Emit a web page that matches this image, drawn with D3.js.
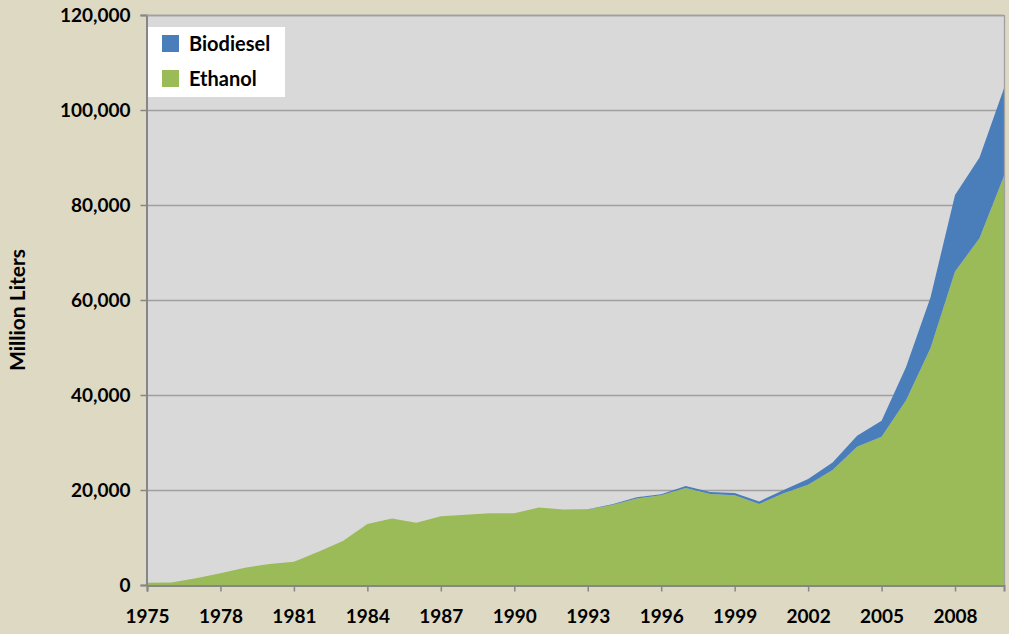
<!DOCTYPE html>
<html>
<head>
<meta charset="utf-8">
<script src="https://cdn.jsdelivr.net/npm/d3@7"></script>
<style>
  body { margin: 0; background: #DDD9C3; }
  svg { display: block; font-family: Lato, "Open Sans", sans-serif; font-weight: bold; }
</style>
</head>
<body>
<div id="chart"></div>
<script>
var years = d3.range(1975, 2011);
var ethanol = [500, 550, 1400, 2450, 3650, 4400, 4900, 7000, 9250, 12850,
               14000, 13100, 14500, 14800, 15100, 15100, 16300, 15900, 15900, 16850,
               18200, 18900, 20400, 19150, 18900, 17050, 19300, 21100, 24200, 29100,
               31200, 38900, 49900, 66000, 73000, 86100];
var biodiesel = [0, 0, 0, 0, 0, 0, 0, 0, 0, 0,
                 0, 0, 0, 0, 0, 0, 0, 0, 50, 150,
                 250, 200, 450, 450, 450, 550, 700, 1200, 1600, 2300,
                 3400, 7000, 10700, 16100, 17000, 18500];
var yTicks = [0, 20000, 40000, 60000, 80000, 100000, 120000];
var xTicks = d3.range(1975, 2011, 3);

var width = 1009, height = 634;
var margin = {top: 15, right: 5, bottom: 49, left: 147};

var svg = d3.select("#chart").append("svg")
    .attr("width", width)
    .attr("height", height);

var x = d3.scaleLinear().domain([1975, 2010]).range([margin.left, width - margin.right]);
var y = d3.scaleLinear().domain([0, 120000]).range([height - margin.bottom, margin.top]);

// plot background
svg.append("rect")
    .attr("x", x(1975)).attr("y", y(120000))
    .attr("width", x(2010) - x(1975)).attr("height", y(0) - y(120000))
    .attr("fill", "#D9D9D9");

// gridlines
svg.append("g").selectAll("line")
    .data(yTicks.filter(function(d){ return d > 0; }))
    .enter().append("line")
    .attr("x1", x(1975)).attr("x2", x(2010))
    .attr("y1", function(d){ return y(d) + 0.5; })
    .attr("y2", function(d){ return y(d) + 0.5; })
    .attr("stroke", "#A0A0A0").attr("stroke-width", 1.3);

var rows = years.map(function(yr, i){
    return {year: yr, ethanol: ethanol[i], biodiesel: biodiesel[i]};
});
var stack = d3.stack().keys(["ethanol", "biodiesel"]);
var series = stack(rows);
var colors = {ethanol: "#9BBB59", biodiesel: "#4A7EBB"};

var area = d3.area()
    .x(function(d){ return x(d.data.year); })
    .y0(function(d){ return y(d[0]); })
    .y1(function(d){ return y(d[1]); });

svg.append("g").selectAll("path")
    .data(series)
    .enter().append("path")
    .attr("d", area)
    .attr("fill", function(d){ return colors[d.key]; });

// plot border right
svg.append("line")
    .attr("x1", x(2010) + 0.5).attr("x2", x(2010) + 0.5)
    .attr("y1", y(120000)).attr("y2", y(0))
    .attr("stroke", "#A0A0A0").attr("stroke-width", 1.3);

// y axis
var yAxis = d3.axisLeft(y).tickValues(yTicks).tickSize(6).tickPadding(10)
    .tickFormat(d3.format(","));
var gy = svg.append("g")
    .attr("transform", "translate(" + (x(1975) - 0.5) + ",0)")
    .call(yAxis);
gy.select(".domain").attr("stroke", "#868686").attr("stroke-width", 2);
gy.selectAll(".tick line").attr("stroke", "#868686").attr("stroke-width", 1.5);
gy.selectAll(".tick text").attr("font-size", 19).attr("fill", "#000")
    .attr("font-family", "Lato, sans-serif").attr("font-weight", "bold");
gy.selectAll(".tick").filter(function(d){ return d === 120000; })
    .append("line").attr("x1", 0).attr("x2", x(2010) - x(1975))
    .attr("stroke", "#A0A0A0").attr("stroke-width", 1.3);

// x axis
var xAxis = d3.axisBottom(x).tickValues(xTicks).tickSize(6).tickPadding(18)
    .tickFormat(d3.format("d"));
var gx = svg.append("g")
    .attr("transform", "translate(0," + (y(0) + 0.5) + ")")
    .call(xAxis);
gx.select(".domain").attr("stroke", "#868686").attr("stroke-width", 2);
gx.selectAll(".tick line").attr("stroke", "#868686").attr("stroke-width", 1.5);
gx.selectAll(".tick text").attr("font-size", 19).attr("fill", "#000")
    .attr("font-family", "Lato, sans-serif").attr("font-weight", "bold");

// y title
svg.append("text")
    .attr("transform", "translate(25,310) rotate(-90)")
    .attr("text-anchor", "middle")
    .attr("font-size", 21)
    .text("Million Liters");

// legend
var legendItems = [{key: "biodiesel", label: "Biodiesel"}, {key: "ethanol", label: "Ethanol"}];
var legend = svg.append("g").attr("transform", "translate(148,27)");
legend.append("rect").attr("width", 137).attr("height", 70).attr("fill", "#fff");
var li = legend.selectAll(".li").data(legendItems).enter().append("g")
    .attr("class", "li")
    .attr("transform", function(d, i){ return "translate(14," + (8 + i * 35) + ")"; });
li.append("rect").attr("width", 17).attr("height", 17)
    .attr("fill", function(d){ return colors[d.key]; });
li.append("text").attr("x", 27).attr("y", 16).attr("font-size", 20)
    .text(function(d){ return d.label; });
</script>
</body>
</html>
